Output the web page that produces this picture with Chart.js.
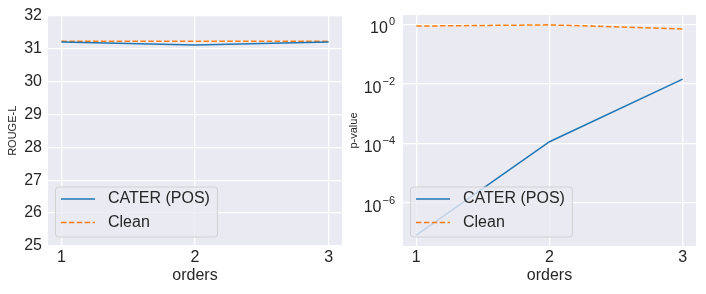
<!DOCTYPE html>
<html>
<head>
<meta charset="utf-8">
<script src="https://cdn.jsdelivr.net/npm/chart.js@4.4.0/dist/chart.umd.min.js"></script>
<style>
  body { margin: 0; background: #fff; width: 706px; height: 294px; position: relative; overflow: hidden; }
  canvas { position: absolute; top: 0; }
  #rouge { left: 0; }
  #pval { left: 340px; }
</style>
</head>
<body>
<canvas id="rouge" width="353" height="294"></canvas>
<canvas id="pval" width="366" height="294"></canvas>
<script>
// datos
const orders = [1, 2, 3];
const seriesNames = ['CATER (POS)', 'Clean'];
const rougeCater = [31.2, 31.11, 31.2];
const rougeClean = [31.22, 31.22, 31.22];
const pCater = [8.4e-8, 1.15e-4, 0.0147];
const pClean = [0.89, 0.98, 0.71];
const rougeTicks = [25, 26, 27, 28, 29, 30, 31, 32];
const pTicks = [1e-6, 1e-4, 1e-2, 1];
const pTickExp = ['\u22126', '\u22124', '\u22122', '0'];

const FONT = "'Liberation Sans', Arial, sans-serif";
const TXT = '#262626';
Chart.defaults.font.family = FONT;
Chart.defaults.color = TXT;

const puntos = (vals) => orders.map((o, i) => ({ x: o, y: vals[i] }));

// fondo gris del área del gráfico
const fondo = {
  id: 'fondo',
  beforeDraw(chart) {
    const a = chart.chartArea, ctx = chart.ctx;
    ctx.save();
    ctx.fillStyle = '#EAEAF2';
    ctx.fillRect(a.left, a.top, a.right - a.left, a.bottom - a.top);
    ctx.restore();
  }
};

// leyenda dentro del área, abajo a la izquierda
const leyenda = {
  id: 'leyenda',
  afterDatasetsDraw(chart) {
    const a = chart.chartArea, ctx = chart.ctx;
    ctx.save();
    ctx.font = '16px ' + FONT;
    let tw = 0;
    chart.data.datasets.forEach(d => { tw = Math.max(tw, ctx.measureText(d.label).width); });
    const w = 6 + 34 + 13 + tw + 7, h = 50;
    const x = a.left + 7, y = a.bottom - 9.5 - h;
    ctx.beginPath();
    ctx.roundRect(x + 0.5, y + 0.5, w, h, 3);
    ctx.fillStyle = 'rgba(234,234,242,0.8)';
    ctx.fill();
    ctx.strokeStyle = 'rgba(204,204,204,0.8)';
    ctx.lineWidth = 1;
    ctx.stroke();
    chart.data.datasets.forEach((d, i) => {
      const cy = y + 12.5 + i * 23.5;
      ctx.beginPath();
      ctx.setLineDash(d.borderDash || []);
      ctx.strokeStyle = d.borderColor;
      ctx.lineWidth = d.borderWidth;
      ctx.moveTo(x + 6, cy);
      ctx.lineTo(x + 40, cy);
      ctx.stroke();
      ctx.setLineDash([]);
      ctx.fillStyle = TXT;
      ctx.textBaseline = 'middle';
      ctx.fillText(d.label, x + 53, cy);
    });
    ctx.restore();
  }
};

// etiquetas 10^n con exponente
const potencias = {
  id: 'potencias',
  afterDraw(chart) {
    const s = chart.scales.y, ctx = chart.ctx, a = chart.chartArea;
    ctx.save();
    ctx.fillStyle = TXT;
    ctx.textBaseline = 'alphabetic';
    pTicks.forEach((v, i) => {
      const py = s.getPixelForValue(v);
      ctx.font = '11px ' + FONT;
      const w2 = ctx.measureText(pTickExp[i]).width;
      ctx.font = '16px ' + FONT;
      const w1 = ctx.measureText('10').width;
      const xr = a.left - 8;
      ctx.fillText('10', xr - w2 - 1 - w1, py + 8.5);
      ctx.font = '11px ' + FONT;
      ctx.fillText(pTickExp[i], xr - w2, py + 0.5);
    });
    ctx.restore();
  }
};

function conjuntos(caterVals, cleanVals) {
  return [{
    label: seriesNames[0],
    data: puntos(caterVals),
    borderColor: '#1f77b4',
    borderWidth: 1.5,
    pointRadius: 0,
    tension: 0,
    fill: false
  }, {
    label: seriesNames[1],
    data: puntos(cleanVals),
    borderColor: '#ff7f0e',
    borderWidth: 1.5,
    borderDash: [5.5, 2.4],
    pointRadius: 0,
    tension: 0,
    fill: false
  }];
}

function ejeX() {
  return {
    type: 'linear',
    min: 0.9,
    max: 3.1,
    afterBuildTicks: s => { s.ticks = orders.map(v => ({ value: v })); },
    afterFit: s => { s.height = 48; },
    grid: { color: '#ffffff', lineWidth: 1.3, drawTicks: false },
    border: { display: false },
    ticks: { padding: 2, font: { size: 16 }, color: TXT, callback: v => String(v) },
    title: { display: true, text: 'orders', font: { size: 16 }, color: TXT, padding: { top: 0, bottom: 9 } }
  };
}

new Chart(document.getElementById('rouge').getContext('2d'), {
  type: 'line',
  data: { datasets: conjuntos(rougeCater, rougeClean) },
  options: {
    responsive: false,
    animation: false,
    devicePixelRatio: 1,
    layout: { padding: { top: 15, right: 11, left: 0, bottom: 0 } },
    plugins: { legend: { display: false }, tooltip: { enabled: false } },
    scales: {
      x: ejeX(),
      y: {
        min: 25,
        max: 32,
        afterBuildTicks: s => { s.ticks = rougeTicks.map(v => ({ value: v })); },
        afterFit: s => { s.width = 48; },
        grid: { color: '#ffffff', lineWidth: 1.3, drawTicks: false },
        border: { display: false },
        ticks: { padding: 6, font: { size: 16 }, color: TXT },
        title: { display: true, text: 'ROUGE-L', font: { size: 11 }, color: TXT, padding: { top: 6.6, bottom: 0 } }
      }
    }
  },
  plugins: [fondo, leyenda]
});

new Chart(document.getElementById('pval').getContext('2d'), {
  type: 'line',
  data: { datasets: conjuntos(pCater, pClean) },
  options: {
    responsive: false,
    animation: false,
    devicePixelRatio: 1,
    layout: { padding: { top: 15, right: 10, left: 0, bottom: 0 } },
    plugins: { legend: { display: false }, tooltip: { enabled: false } },
    scales: {
      x: ejeX(),
      y: {
        type: 'logarithmic',
        min: 3.6e-8,
        max: 2.1,
        afterBuildTicks: s => { s.ticks = pTicks.map(v => ({ value: v })); },
        afterFit: s => { s.width = 63; },
        grid: { color: '#ffffff', lineWidth: 1.3, drawTicks: false },
        border: { display: false },
        ticks: { display: false },
        title: { display: true, text: 'p-value', font: { size: 11 }, color: TXT, padding: { top: 7, bottom: 0 } }
      }
    }
  },
  plugins: [fondo, leyenda, potencias]
});
</script>
</body>
</html>
